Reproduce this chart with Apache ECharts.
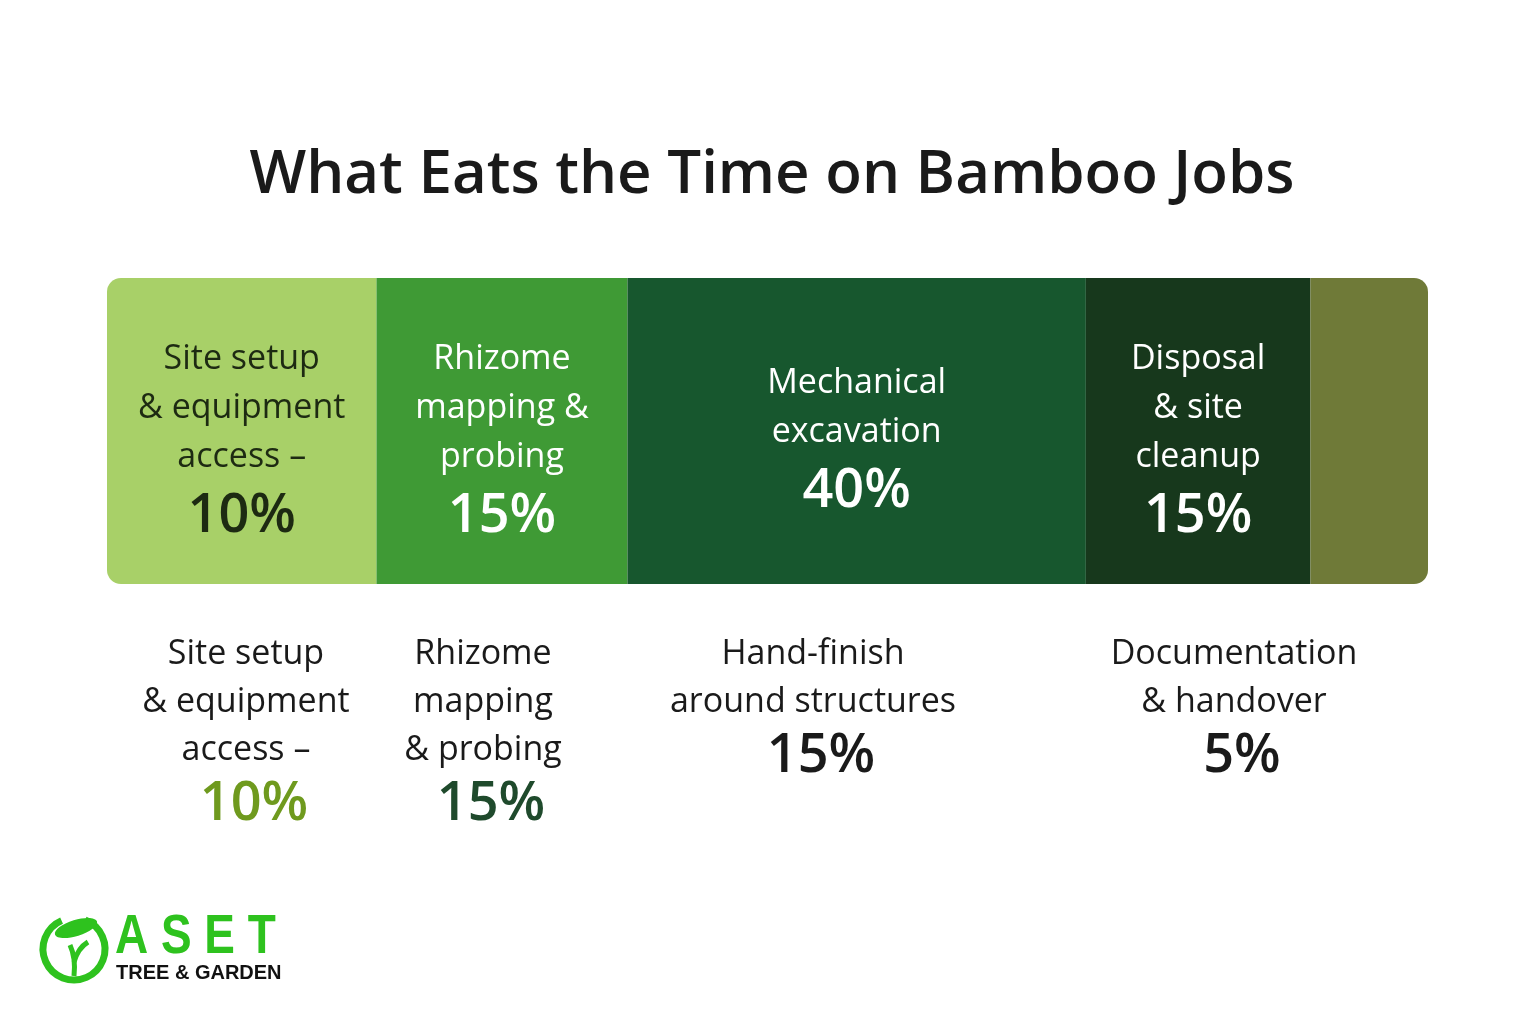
<!DOCTYPE html>
<html><head><meta charset="utf-8">
<script src="https://cdn.jsdelivr.net/npm/echarts@6/dist/echarts.min.js"></script>
<style>html,body{margin:0;background:#fff}#c{width:1536px;height:1024px}</style>
</head><body><div id="c"></div>
<script>
const segNames = ["Site setup & equipment access", "Rhizome mapping & probing", "Mechanical excavation", "Disposal & site cleanup", "Other"];
const segShares = [20.4, 19.0, 34.7, 17.0, 8.9];
const segLabels = ["Site setup\n& equipment\naccess –", "Rhizome\nmapping &\nprobing", "Mechanical\nexcavation", "Disposal\n& site\ncleanup", ""];
const segPercents = ["10%", "15%", "40%", "15%", ""];
const segColors = ["#a8d068", "#3f9a35", "#17572e", "#17381c", "#6f7a38"];
const segTextColors = ["#1d2a12", "#ffffff", "#ffffff", "#ffffff", "#ffffff"];
const lowerLabels = ["Site setup\n& equipment\naccess –", "Rhizome\nmapping\n& probing", "Hand-finish\naround structures", "Documentation\n& handover"];
const lowerPercents = ["10%", "15%", "15%", "5%"];
const lowerPctColors = ["#6f9a1e", "#1f4a2c", "#1a1a1a", "#1a1a1a"];
const lowerX = [246, 483, 813, 1234];

const chart = echarts.init(document.getElementById('c'));
const F = "'Open Sans', sans-serif";
const series = segShares.map((v, i) => ({
  type: 'bar', stack: 't', barWidth: 306, data: [v], name: segNames[i],
  itemStyle: {color: segColors[i], borderRadius: i === 0 ? [14,0,0,14] : i === segShares.length-1 ? [0,14,14,0] : 0},
  label: {show: segLabels[i] !== '', position: 'inside', offset: [0, 12], color: segTextColors[i],
    formatter: () => segLabels[i].split('\n').map(s => '{a|' + s + '}').join('\n') + '\n{p|' + segPercents[i] + '}',
    rich: {a: {fontFamily: F, fontSize: 34, fontWeight: 500, lineHeight: 49, color: segTextColors[i]},
           p: {fontFamily: F, fontSize: 54, fontWeight: 600, lineHeight: 70, color: segTextColors[i]}}}
}));
const graphics = [
  {type: 'text', x: 772, y: 146, style: {text: 'What Eats the Time on Bamboo Jobs', font: "600 60px 'Open Sans', sans-serif", fill: '#1a1a1a', align: 'center'}}
];
lowerLabels.forEach((t, i) => {
  graphics.push({type: 'text', x: lowerX[i], y: 630, style: {text: t, font: "500 34px 'Open Sans', sans-serif", fill: '#1a1a1a', align: 'center', lineHeight: 48}});
  const n = t.split('\n').length;
  graphics.push({type: 'text', x: lowerX[i] + 8, y: 630 + n * 48 + 4, style: {text: lowerPercents[i], font: "600 54px 'Open Sans', sans-serif", fill: lowerPctColors[i], align: 'center'}});
});
graphics.push(
  {type: 'arc', shape: {cx: 74, cy: 949, r: 31, startAngle: -1.2, endAngle: 4.3}, style: {stroke: '#2ec21e', lineWidth: 7, fill: null}},
  {type: 'ellipse', x: 76, y: 928, rotation: 0.3, shape: {cx: 0, cy: 0, rx: 22, ry: 8}, style: {fill: '#2ec21e'}},
  {type: 'bezierCurve', shape: {x1: 74, y1: 976, x2: 70, y2: 945, cpx1: 76, cpy1: 958}, style: {stroke: '#2ec21e', lineWidth: 5, fill: null}},
  {type: 'bezierCurve', shape: {x1: 74, y1: 962, x2: 88, y2: 942, cpx1: 78, cpy1: 948}, style: {stroke: '#2ec21e', lineWidth: 5, fill: null}},
  {type: 'text', x: 115, y: 910, scaleX: 0.82, style: {text: 'A S E T', font: "bold 56px 'Liberation Sans', sans-serif", fill: '#2ec21e'}},
  {type: 'text', x: 116, y: 963, style: {text: 'TREE & GARDEN', font: "bold 20px 'Liberation Sans', sans-serif", fill: '#111'}}
);
chart.setOption({
  animation: false, backgroundColor: '#fff',
  grid: {left: 107, width: 1321, top: 278, height: 306},
  xAxis: {type: 'value', max: segShares.reduce((a,b)=>a+b,0), show: false},
  yAxis: {type: 'category', data: ['Time'], show: false},
  series, graphic: graphics
});
</script></body></html>
